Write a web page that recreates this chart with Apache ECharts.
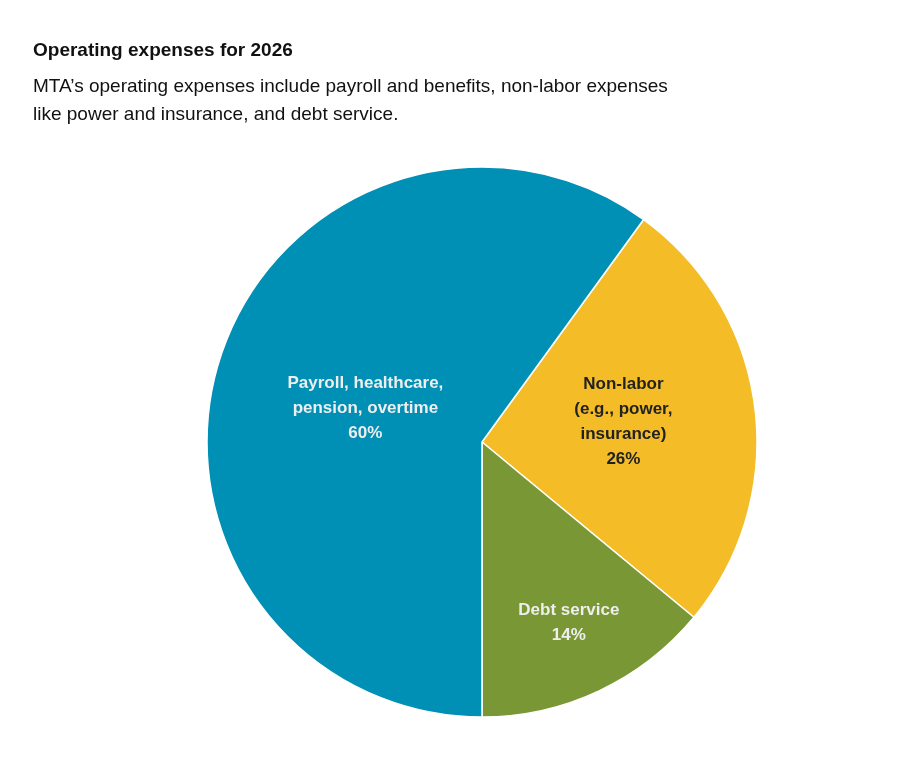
<!DOCTYPE html>
<html><head><meta charset="utf-8">
<script src="https://cdn.jsdelivr.net/npm/echarts@6/dist/echarts.min.js"></script>
<style>html,body{margin:0;padding:0;background:#fff}#c{width:922px;height:779px}</style>
</head><body><div id="c"></div>
<script>
const categories = ["Non-labor\n(e.g., power,\ninsurance)", "Debt service", "Payroll, healthcare,\npension, overtime"];
const values = [26, 14, 60];
const colors = ["#F4BC27", "#7A9735", "#008FB5"];
const labelColors = ["#222222", "#eeeeee", "#eeeeee"];
const offsets = [[2, -3], [27, 54], [17, 10]];
const chart = echarts.init(document.getElementById('c'));
chart.setOption({
  animation: false,
  title: [
    {text: "Operating expenses for 2026", left: 28, top: 36, textStyle: {fontFamily: "Liberation Sans", fontSize: 19, fontWeight: "bold", color: "#111"}},
    {text: "MTA’s operating expenses include payroll and benefits, non-labor expenses\nlike power and insurance, and debt service.", left: 28, top: 68, textStyle: {fontFamily: "Liberation Sans", fontSize: 19, fontWeight: "normal", color: "#111", lineHeight: 28}}
  ],
  series: [{
    type: "pie",
    center: [482, 442],
    radius: [0, 275],
    startAngle: 54,
    clockwise: true,
    itemStyle: {borderColor: "#fff", borderWidth: 1.5},
    label: {position: "inside", fontFamily: "Liberation Sans", fontSize: 17, fontWeight: "bold", lineHeight: 25,
      formatter: p => p.name + "\n" + p.value + "%"},
    labelLine: {show: false},
    emphasis: {disabled: true},
    data: categories.map((n, i) => ({name: n, value: values[i], itemStyle: {color: colors[i]},
      label: {color: labelColors[i], offset: offsets[i]}}))
  }]
});
</script></body></html>
